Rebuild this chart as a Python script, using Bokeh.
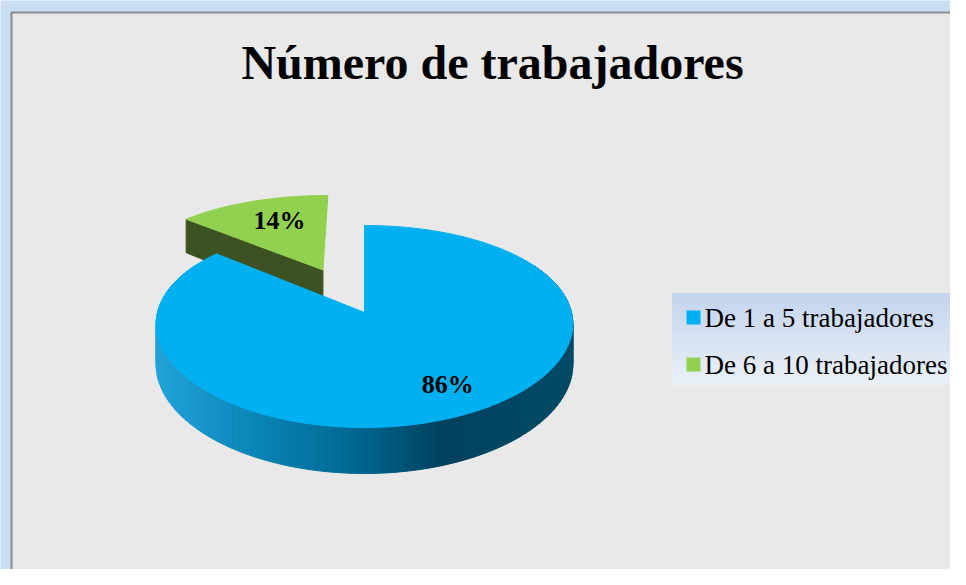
import numpy as np
from bokeh.plotting import figure
from bokeh.models import Range1d
from bokeh.core.properties import value
from bokeh.embed import file_html
from bokeh.resources import INLINE

# ---- data ----
categories = ["De 1 a 5 trabajadores", "De 6 a 10 trabajadores"]
values = [86, 14]
labels = ["86%", "14%"]
colors = ["#00b0f0", "#92d050"]
title_text = "Número de trabajadores"

# ---- layout (pixel-like coordinates, y downward) ----
W, H = 950, 569
p = figure(width=W, height=H, output_backend="svg", toolbar_location=None,
           x_range=Range1d(0, W), y_range=Range1d(H, 0),
           min_border=0)
p.axis.visible = False
p.grid.visible = False
p.background_fill_color = "#c8dcf2"
p.border_fill_color = "#c8dcf2"
p.outline_line_color = None

# chart area with grey border
p.quad(left=11, right=W + 20, top=12, bottom=H + 20,
       fill_color="#e9e9e9", line_color="#8c8c8c", line_width=2)

cx, cy, rx, ry, kq, persp = 364, 312, 207, 101, 14, 0.113
explode = 0.497

def proj(u, v):
    x = cx + rx * u * (1 + persp * v)
    y = cy + ry * v + kq * v * v
    return x, y

def dep(v):
    return 40 + 6 * v

total = float(sum(values))
fracs = [v / total for v in values]
starts = np.cumsum([0] + fracs[:-1]) * 2 * np.pi
ends = np.cumsum(fracs) * 2 * np.pi

# ---- green (exploded) slice ----
gs, ge = starts[1], ends[1]
gm = (gs + ge) / 2
gu, gv = explode * np.sin(gm), -explode * np.cos(gm)
tx, ty = proj(gu, gv)
eu, ev = gu + np.sin(gs), gv - np.cos(gs)
ex, ey = proj(eu, ev)
p.patch([tx, ex, ex, tx], [ty, ey, ey + dep(ev), ty + dep(gv)],
        fill_color="#3d5223", line_color="#3d5223")
ts = np.linspace(gs, ge, 40)
ax, ay = proj(gu + np.sin(ts), gv - np.cos(ts))
p.patch(np.concatenate([[tx], ax]), np.concatenate([[ty], ay]),
        fill_color=colors[1], line_color=colors[1])

# ---- blue slice: side wall with gradient ----
stops_x = np.array([158, 250, 360, 440, 572])
stops_c = np.array([[0x22, 0xa2, 0xd8], [0x0a, 0x86, 0xb8], [0x00, 0x66, 0x90],
                    [0x00, 0x42, 0x5e], [0x00, 0x4a, 0x66]], dtype=float)
tt = np.radians(np.arange(60, 301, 2))
xs, ys, cs = [], [], []
for a, b in zip(tt[:-1], tt[1:]):
    x1, y1 = proj(np.sin(a), -np.cos(a))
    x2, y2 = proj(np.sin(b), -np.cos(b))
    xs.append([x1, x2, x2, x1])
    ys.append([y1, y2, y2 + dep(-np.cos(b)), y1 + dep(-np.cos(a))])
    xm = (x1 + x2) / 2
    c = [np.interp(xm, stops_x, stops_c[:, k]) for k in range(3)]
    cs.append("#%02x%02x%02x" % tuple(int(round(v)) for v in c))
p.patches(xs, ys, fill_color=cs, line_color=cs, line_width=1)

ts = np.linspace(starts[0], ends[0], 200)
bx, by = proj(np.sin(ts), -np.cos(ts))
p.patch(np.concatenate([[cx], bx]), np.concatenate([[cy], by]),
        fill_color=colors[0], line_color=colors[0])

# ---- data labels ----
bm = (starts[0] + ends[0]) / 2
l1 = proj(0.88 * np.sin(bm), -0.72 * np.cos(bm))
l2 = proj(gu + 0.6 * np.sin(gm), gv - 0.68 * np.cos(gm))
p.text([l1[0], l2[0]], [l1[1], l2[1]], text=labels, text_font=value("Liberation Serif"),
       text_font_style="bold", text_font_size="26px", text_align="center",
       text_baseline="middle", text_color="black")

# ---- title ----
p.text([492], [62], text=[title_text], text_font=value("Liberation Serif"),
       text_font_style="bold", text_font_size="48px", text_align="center",
       text_baseline="middle", text_color="black")

# ---- legend (drawn) ----
lx0, lx1, ly0, ly1 = 672, 957, 293, 384
n = 30
edges = np.linspace(ly0, ly1, n + 1)
top_c = np.array([0xc4, 0xd5, 0xee])
bot_c = np.array([0xea, 0xf0, 0xf8])
gcols = []
for i in range(n):
    f = i / (n - 1)
    c = top_c + (bot_c - top_c) * f
    gcols.append("#%02x%02x%02x" % tuple(int(v) for v in c))
p.quad(left=lx0, right=lx1, top=edges[:-1], bottom=edges[1:],
       fill_color=gcols, line_color=gcols)
leg_y = [317, 364]
p.scatter([693] * 2, leg_y, marker="square", size=14, fill_color=colors, line_color=None)
p.text([704] * 2, leg_y, text=categories, text_font=value("Liberation Serif"),
       text_font_size="27px", text_baseline="middle", text_color="black")

open("out.html", "w").write(file_html(p, INLINE))
